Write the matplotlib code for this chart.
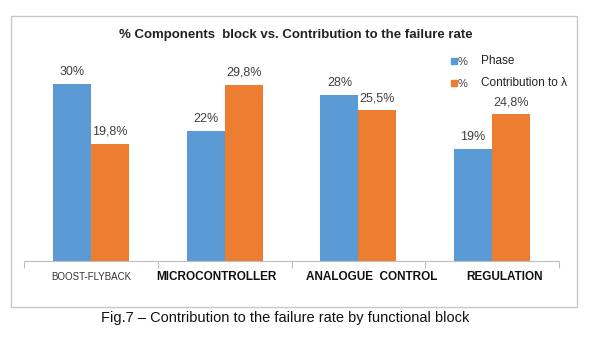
import matplotlib.pyplot as plt
import matplotlib.patches as mpatches
import numpy as np

categories = ["BOOST-FLYBACK", "MICROCONTROLLER", "ANALOGUE  CONTROL", "REGULATION"]
phase = [30, 22, 28, 19]
contribution = [19.8, 29.8, 25.5, 24.8]
phase_labels = ["30%", "22%", "28%", "19%"]
contribution_labels = ["19,8%", "29,8%", "25,5%", "24,8%"]

BLUE = "#5B9BD5"
ORANGE = "#ED7D31"

plt.rcParams["font.family"] = ["Liberation Sans", "DejaVu Sans"]

fig = plt.figure(figsize=(6.0, 3.52), dpi=100)
W, H = 600, 352

# chart frame
fig.patches.append(mpatches.Rectangle((11 / W, 1 - 307 / H), 566 / W, 291 / H,
                                      transform=fig.transFigure, fill=False,
                                      edgecolor="#c8c8c8", linewidth=1))

ax = fig.add_axes([24 / W, 1 - 261 / H, 535 / W, 207 / H])
x = np.arange(len(categories))
width = 38 / 134
ax.bar(x - width / 2, phase, width, color=BLUE)
ax.bar(x + width / 2, contribution, width, color=ORANGE)

for xi, v, lab in zip(x, phase, phase_labels):
    ax.text(xi - width / 2, v + 1.0, lab, ha="center", va="bottom",
            fontsize=9, color="#404040")
for xi, v, lab in zip(x, contribution, contribution_labels):
    ax.text(xi + width / 2, v + 1.0, lab, ha="center", va="bottom",
            fontsize=9, color="#404040")

ax.set_xlim(-0.5, len(categories) - 0.5)
ax.set_ylim(0, 35)
ax.set_yticks([])
for s in ["top", "left", "right"]:
    ax.spines[s].set_visible(False)
ax.spines["bottom"].set_color("#bfbfbf")
ax.set_xticks(np.arange(len(categories) + 1) - 0.5)
ax.set_xticklabels([])
ax.tick_params(axis="x", length=5, color="#bfbfbf", direction="out")

# label centre offsets (in category units) as in the original
label_dx = [0, -0.06, 0.1, 0.09]
for i, (cat, dx) in enumerate(zip(categories, label_dx)):
    if i == 0:
        ax.text(i + dx, -1.9, cat, ha="center", va="top", fontsize=7,
                color="#333333")
    else:
        ax.text(i + dx, -1.7, cat, ha="center", va="top", fontsize=8.5,
                fontweight="bold", color="#111111")

fig.text(296 / W, 1 - 35 / H, "% Components  block vs. Contribution to the failure rate",
         ha="center", va="center", fontsize=9.5, fontweight="bold", color="#222222")

# legend
for yy, col, lab in [(61, BLUE, "Phase"), (83, ORANGE, "Contribution to λ")]:
    fig.patches.append(mpatches.Rectangle((451 / W, 1 - (yy + 3) / H), 6 / W, 6 / H,
                                          transform=fig.transFigure, color=col))
    fig.text(458 / W, 1 - (yy + 1) / H, "%", ha="left", va="center", fontsize=8, color="#404040")
    fig.text(481 / W, 1 - yy / H, lab, ha="left", va="center", fontsize=8.5, color="#222222")

fig.text(285 / W, 1 - 318 / H, "Fig.7 – Contribution to the failure rate by functional block",
         ha="center", va="center", fontsize=10.5, color="#111111")

fig.savefig("out.png", dpi=100)
